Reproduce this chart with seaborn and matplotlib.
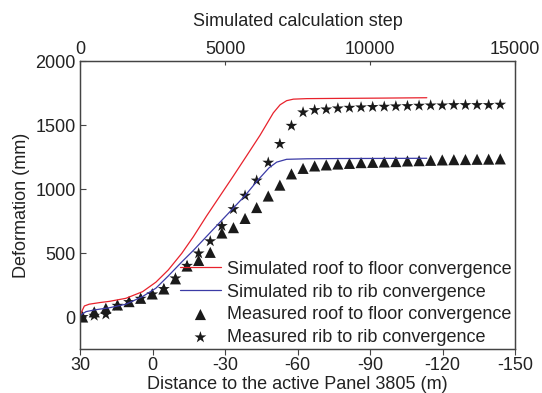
import matplotlib
matplotlib.use("Agg")
import matplotlib.pyplot as plt
import seaborn as sns
import pandas as pd

# ---- data ----
sim_roof_dist = [30.0, 29.6, 28.2, 26.2, 21.7, 17.9, 11.0, 4.1, -1.4, -6.5, -12.1, -16.9,
                 -22.4, -27.9, -33.4, -38.9, -44.5, -47.8, -50.0, -52.8, -55.5, -58.3,
                 -63.8, -77.6, -94.1, -113.5]
sim_roof_val = [0, 30, 86, 100, 113, 122, 146, 198, 272, 367, 497, 627,
                790, 945, 1100, 1258, 1420, 1525, 1595, 1658, 1690, 1702,
                1706, 1708, 1710, 1713]

sim_rib_dist = [30.0, 29.6, 27.5, 23.8, 17.9, 11.0, 4.1, -1.4, -6.5, -12.1, -16.9, -22.4,
                -27.9, -33.4, -38.6, -43.4, -48.2, -51.4, -55.5, -63.8, -77.6, -113.5]
sim_rib_val = [0, 16, 42, 56, 72, 100, 160, 225, 320, 430, 520, 630,
               740, 850, 955, 1065, 1165, 1210, 1232, 1236, 1238, 1240]

meas_dist = [28.9, 24.1, 19.3, 14.5, 9.7, 4.9, 0.1, -4.7, -9.5, -14.3, -19.1, -23.9,
             -28.7, -33.5, -38.3, -43.1, -47.9, -52.7, -57.5, -62.3, -67.1, -71.9,
             -76.7, -81.5, -86.3, -91.1, -95.9, -100.7, -105.5, -110.3, -115.1,
             -119.9, -124.7, -129.5, -134.3, -139.1, -143.9]
meas_roof = [0, 40, 68, 94, 120, 146, 180, 219, 298, 398, 442, 505,
             656, 698, 770, 855, 945, 1030, 1118, 1161, 1180, 1188,
             1195, 1200, 1206, 1208, 1211, 1214, 1219, 1221, 1224,
             1227, 1229, 1230, 1232, 1233, 1235]
meas_rib = [0, 10, 20, 88, 117, 143, 177, 219, 302, 400, 497, 592,
            711, 843, 948, 1066, 1206, 1352, 1494, 1599, 1617, 1622,
            1630, 1635, 1638, 1641, 1643, 1646, 1648, 1651, 1653,
            1653, 1656, 1656, 1656, 1656, 1659]

x_ticks = [30, 0, -30, -60, -90, -120, -150]
y_ticks = [0, 500, 1000, 1500, 2000]
top_ticks = [0, 5000, 10000, 15000]

labels = ["Simulated roof to floor convergence",
          "Simulated rib to rib convergence",
          "Measured roof to floor convergence",
          "Measured rib to rib convergence"]

# ---- style ----
sns.set_style("ticks")
plt.rcParams["font.family"] = ["Liberation Sans", "DejaVu Sans"]
FS = 13
plt.rcParams["font.size"] = FS
text_c = "#222222"
spine_c = "#444444"

fig = plt.figure(figsize=(5.42, 3.93), dpi=100)
ax = fig.add_axes([80 / 542, 1 - 349 / 393, 435 / 542, 288 / 393])

sns.lineplot(x=sim_roof_dist, y=sim_roof_val, ax=ax, color="#e8222c", lw=0.9,
             label=labels[0], sort=False)
sns.lineplot(x=sim_rib_dist, y=sim_rib_val, ax=ax, color="#3b3ba6", lw=0.9,
             label=labels[1], sort=False)
sns.scatterplot(x=meas_dist, y=meas_roof, ax=ax, marker="^", s=64, color="#1a1a1a",
                edgecolor="none", label=labels[2])
sns.scatterplot(x=meas_dist, y=meas_rib, ax=ax, marker="*", s=80, color="#1a1a1a",
                edgecolor="none", label=labels[3])

ax.set_xlim(30, -150)
ax.set_ylim(-250, 2000)
ax.set_xticks(x_ticks)
ax.set_xticklabels([str(v) for v in x_ticks])
ax.set_yticks(y_ticks)
ax.set_xlabel("Distance to the active Panel 3805 (m)", color=text_c, labelpad=1,
              fontsize=FS)
ax.set_ylabel("Deformation (mm)", color=text_c, labelpad=4, fontsize=FS)
ax.tick_params(axis="x", direction="out", length=4, width=0.8, colors=spine_c,
               labelcolor=text_c, pad=2, labelsize=FS)
ax.tick_params(axis="y", direction="in", length=4, width=0.8, colors=spine_c,
               labelcolor=text_c, pad=3, labelsize=FS)
for s in ax.spines.values():
    s.set_visible(True)
    s.set_color(spine_c)
    s.set_linewidth(0.9)

ax2 = ax.twiny()
ax2.set_xlim(0, 15000)
ax2.set_xticks(top_ticks)
ax2.set_xlabel("Simulated calculation step", color=text_c, labelpad=11, fontsize=FS)
ax2.tick_params(axis="x", direction="in", length=3, width=0.8, colors=spine_c,
                labelcolor=text_c, pad=2, labelsize=FS)
for s in ax2.spines.values():
    s.set_color(spine_c)
    s.set_linewidth(0.9)

leg = ax.legend(loc="lower right", bbox_to_anchor=(1.01, -0.018), frameon=False,
                handlelength=2.3, handletextpad=0.3, labelspacing=0.32,
                borderaxespad=0.25, borderpad=0.2, fontsize=FS)
for t in leg.get_texts():
    t.set_color(text_c)

fig.savefig("out.png", dpi=100)
